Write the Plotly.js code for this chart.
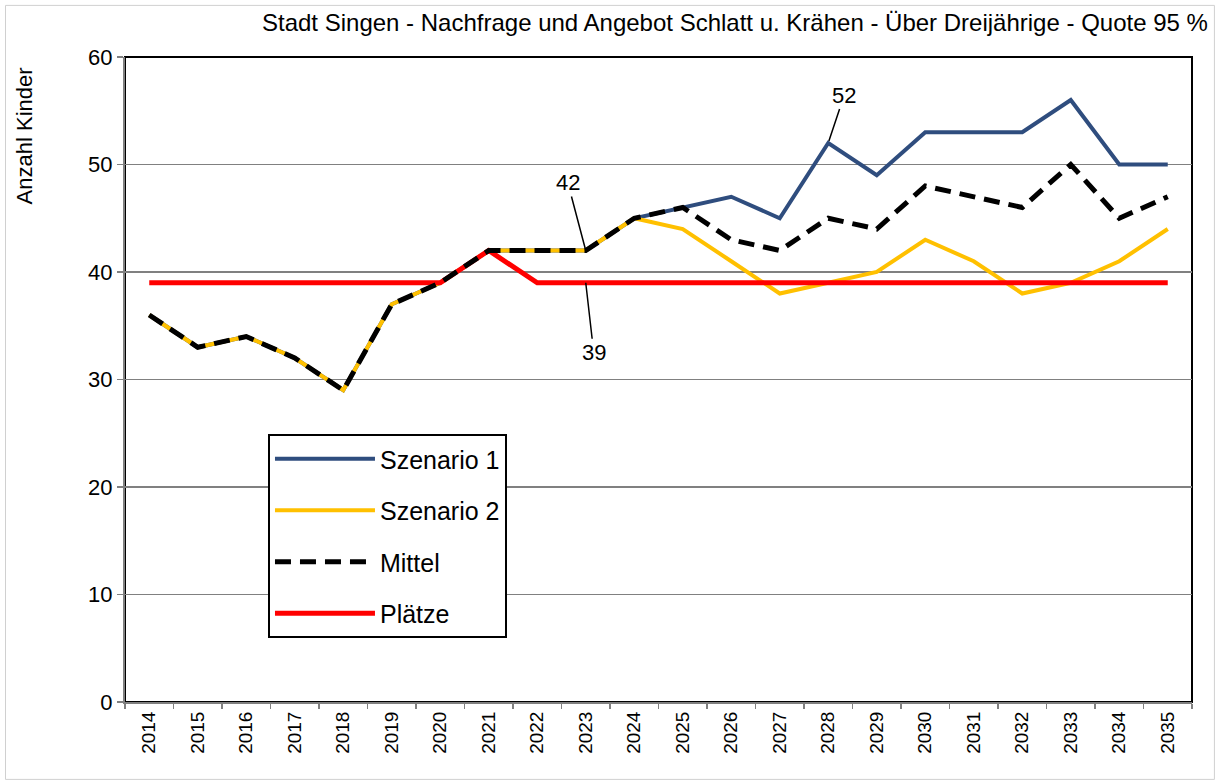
<!DOCTYPE html>
<html>
<head>
<meta charset="utf-8">
<script src="https://cdn.plot.ly/plotly-3.0.1.min.js"></script>
<style>html,body{margin:0;padding:0;background:#fff;}#chart{width:1219px;height:783px;}</style>
</head>
<body>
<div id="chart"></div>
<script>
const years = ["2014","2015","2016","2017","2018","2019","2020","2021","2022","2023","2024","2025","2026","2027","2028","2029","2030","2031","2032","2033","2034","2035"];
const szenario1 = [36,33,34,32,29,37,39,42,42,42,45,46,47,45,52,49,53,53,53,56,50,50];
const szenario2 = [36,33,34,32,29,37,39,42,42,42,45,44,41,38,39,40,43,41,38,39,41,44];
const mittel    = [36,33,34,32,29,37,39,42,42,42,45,46,43,42,45,44,48,47,46,50,45,47];
const plaetze   = [39,39,39,39,39,39,39,42,39,39,39,39,39,39,39,39,39,39,39,39,39,39];
const yTicks = [0,10,20,30,40,50,60];

const font = "Liberation Sans, Arial, sans-serif";

const traces = [
  {x: years, y: szenario1, name: "Szenario 1", type: "scatter", mode: "lines",
   line: {color: "#2F4D7E", width: 4}, legendrank: 1, legendgroup: "a"},
  {x: years, y: szenario2, name: "Szenario 2", type: "scatter", mode: "lines",
   line: {color: "#FFC000", width: 4}, legendrank: 2, legendgroup: "b"},
  {x: years, y: plaetze, name: "Plätze", type: "scatter", mode: "lines",
   line: {color: "#FF0000", width: 5}, legendrank: 4, legendgroup: "d"},
  {x: years, y: mittel, name: "Mittel", type: "scatter", mode: "lines",
   line: {color: "#000000", width: 5, dash: "16px,9px"}, legendrank: 3, legendgroup: "c"}
];

const idx2023 = years.indexOf("2023");
const idx2028 = years.indexOf("2028");

const layout = {
  width: 1219, height: 783,
  margin: {l: 125, r: 27, t: 57, b: 81},
  paper_bgcolor: "#ffffff", plot_bgcolor: "#ffffff",
  font: {family: font, color: "#000"},
  showlegend: true,
  legend: {
    x: 0.134, y: 0.4155, xanchor: "left", yanchor: "top",
    bgcolor: "#ffffff", bordercolor: "#000", borderwidth: 2,
    font: {family: font, size: 25, color: "#000"},
    tracegroupgap: 16, itemwidth: 100, traceorder: "grouped"
  },
  xaxis: {
    type: "category", tickmode: "array", tickvals: years, ticktext: years,
    tickangle: -90, tickfont: {family: font, size: 19, color: "#000"},
    tickson: "boundaries", ticks: "outside", ticklen: 5, tickcolor: "#808080", tickwidth: 1.5,
    showline: true, linecolor: "#808080", linewidth: 2,
    showgrid: false, zeroline: false, range: [-0.5, 21.5]
  },
  yaxis: {
    range: [0, 60], tickmode: "array", tickvals: yTicks,
    tickfont: {family: font, size: 22, color: "#000"},
    ticks: "outside", ticklen: 6, tickcolor: "#808080", tickwidth: 1.5,
    showline: true, linecolor: "#808080", linewidth: 2,
    showgrid: true, gridcolor: "#808080", gridwidth: 1.5, zeroline: false
  },
  shapes: [
    {type: "rect", xref: "paper", yref: "paper", x0: 0, x1: 1, y0: 0, y1: 1,
     line: {color: "#000", width: 2}, layer: "below"},
    {type: "rect", xref: "paper", yref: "paper", x0: -0.112, x1: 1.021, y0: -0.12, y1: 1.08,
     line: {color: "#d0d0d0", width: 1}, layer: "below"}
  ],
  annotations: [
    {xref: "paper", yref: "paper", x: 1.017, y: 1.03, xanchor: "right", yanchor: "bottom",
     text: "Stadt Singen - Nachfrage und Angebot Schlatt u. Krähen - Über Dreijährige - Quote 95 %",
     showarrow: false, font: {family: font, size: 24, color: "#000"}},
    {xref: "paper", yref: "paper", x: -0.094, y: 0.878, xanchor: "center", yanchor: "middle",
     text: "Anzahl Kinder", textangle: -90, showarrow: false,
     font: {family: font, size: 22, color: "#000"}},
    {xref: "x", yref: "y", x: idx2023, y: mittel[idx2023], text: "42", showarrow: true, arrowhead: 0, arrowwidth: 1.5,
     arrowcolor: "#000", ax: -18, ay: -68, standoff: 0,
     font: {family: font, size: 22, color: "#000"}},
    {xref: "x", yref: "y", x: idx2023, y: plaetze[idx2023], text: "39", showarrow: true, arrowhead: 0, arrowwidth: 1.5,
     arrowcolor: "#000", ax: 8, ay: 70, standoff: 0,
     font: {family: font, size: 22, color: "#000"}},
    {xref: "x", yref: "y", x: idx2028, y: szenario1[idx2028], text: "52", showarrow: true, arrowhead: 0, arrowwidth: 1.5,
     arrowcolor: "#000", ax: 16, ay: -48, standoff: 2,
     font: {family: font, size: 22, color: "#000"}}
  ]
};

Plotly.newPlot("chart", traces, layout, {displayModeBar: false, staticPlot: true});
</script>
</body>
</html>
